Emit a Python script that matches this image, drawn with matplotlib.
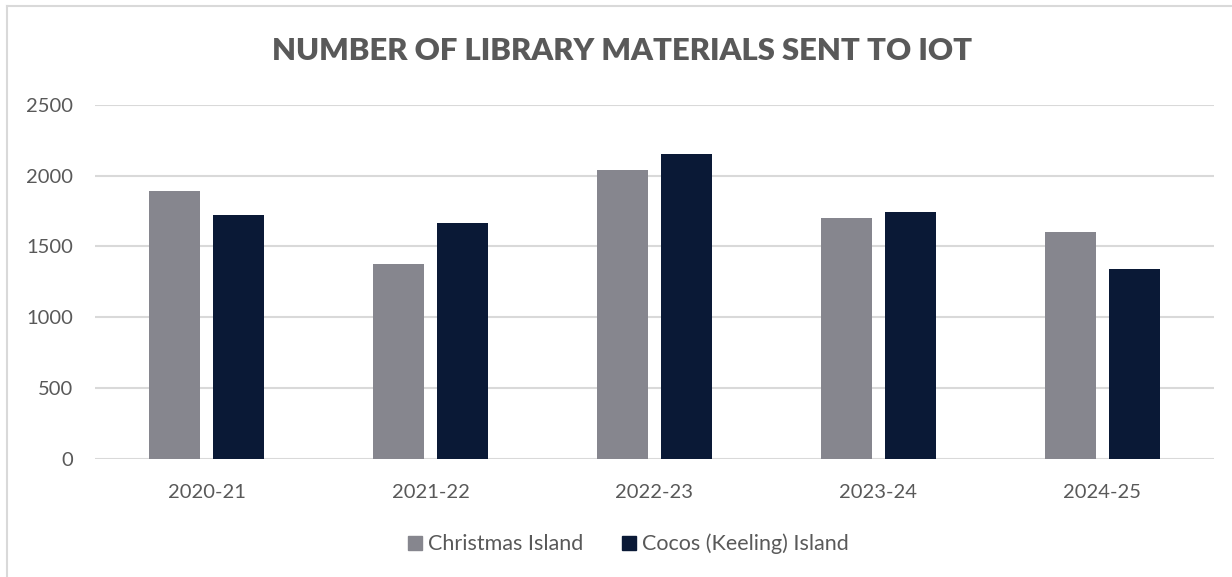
import matplotlib
matplotlib.use("Agg")
import matplotlib.pyplot as plt
from matplotlib.lines import Line2D
from matplotlib.patches import Patch
import numpy as np

years = ["2020-21", "2021-22", "2022-23", "2023-24", "2024-25"]
christmas_island = [1890, 1375, 2040, 1700, 1600]
cocos_island = [1720, 1665, 2150, 1745, 1340]
y_ticks = [0, 500, 1000, 1500, 2000, 2500]

GREY = "#86868E"
NAVY = "#0A1936"
TEXT = "#595959"
GRID = "#D9D9D9"

plt.rcParams["font.family"] = ["Lato", "DejaVu Sans"]

W, H = 1232, 577
fig = plt.figure(figsize=(W / 100, H / 100), dpi=100)
ax = fig.add_axes([95 / W, 1 - 459 / H, (1214 - 95) / W, (459 - 104.7) / H])

x = np.arange(len(years))
w = 0.228
off = 0.143
ax.bar(x - off, christmas_island, width=w, color=GREY, zorder=3, label="Christmas Island")
ax.bar(x + off, cocos_island, width=w, color=NAVY, zorder=3, label="Cocos (Keeling) Island")

ax.set_xlim(-0.5, len(years) - 0.5)
ax.set_ylim(0, 2500)
ax.set_yticks(y_ticks)
ax.set_yticklabels([str(v) for v in y_ticks])
ax.set_xticks(x)
ax.set_xticklabels(years)
ax.grid(axis="y", color=GRID, linewidth=1.5, zorder=0)
ax.set_axisbelow(True)
for s in ax.spines.values():
    s.set_visible(False)
ax.tick_params(axis="both", length=0, labelsize=14.5, colors=TEXT)
ax.tick_params(axis="y", pad=16)
ax.tick_params(axis="x", pad=18)

fig.text(622 / W, 1 - 51 / H, "NUMBER OF LIBRARY MATERIALS SENT TO IOT", ha="center", va="center",
         fontsize=22.3, fontweight="heavy", color=TEXT)

handles = [Patch(color=GREY, label="Christmas Island"), Patch(color=NAVY, label="Cocos (Keeling) Island")]
fig.legend(handles=handles, loc="center", bbox_to_anchor=(628 / W, 1 - 544 / H), ncol=2, frameon=False,
           fontsize=15.5, labelcolor=TEXT, handlelength=0.65, handleheight=0.6, handletextpad=0.28,
           columnspacing=1.8)

# chart area frame: top and left edges
fig.add_artist(Line2D([7 / W, 1], [1 - 5.5 / H, 1 - 5.5 / H], transform=fig.transFigure,
                      color=GRID, linewidth=1.5))
fig.add_artist(Line2D([7 / W, 7 / W], [0, 1 - 5.5 / H], transform=fig.transFigure,
                      color=GRID, linewidth=1.5))

fig.savefig("out.png", dpi=100, facecolor="white")
